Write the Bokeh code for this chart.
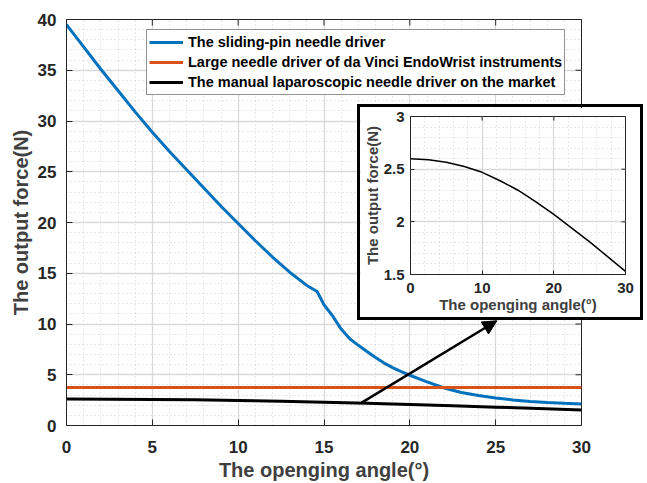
import math
from bokeh.plotting import figure
from bokeh.models import (FixedTicker, Legend, LegendItem, Arrow,
                          NormalHead, NumeralTickFormatter)
from bokeh.embed import file_html
from bokeh.resources import INLINE

# ---------------- data ----------------
angle_blue = [0, 1, 2, 3, 4, 5, 6, 7, 8, 9, 10, 11, 12, 13, 14, 14.6, 15, 15.5,
              16, 16.5, 17, 17.5, 18, 18.5, 19, 19.5, 20, 21, 22, 23, 24, 25,
              26, 27, 28, 29, 30]
force_blue = [39.5, 37.3, 35.1, 33.0, 30.9, 28.9, 27.0, 25.2, 23.4, 21.6, 19.9,
              18.2, 16.6, 15.1, 13.8, 13.2, 11.9, 10.8, 9.5, 8.55, 7.9, 7.3,
              6.7, 6.15, 5.7, 5.3, 4.95, 4.3, 3.7, 3.25, 2.95, 2.72, 2.52, 2.37,
              2.26, 2.18, 2.13]
angle_orange = [0, 30]
force_orange = [3.75, 3.75]
angle_black = [0, 2.5, 5, 7.5, 10, 12.5, 15, 17.5, 20, 22.5, 25, 27.5, 30]
force_black = [2.60, 2.59, 2.565, 2.525, 2.47, 2.39, 2.30, 2.19, 2.07, 1.94,
               1.81, 1.67, 1.53]

names = ["The sliding-pin needle driver",
         "Large needle driver of da Vinci EndoWrist instruments",
         "The manual laparoscopic needle driver on the market"]
colors = ["#0072BD", "#D95319", "#000000"]

x_ticks = [0, 5, 10, 15, 20, 25, 30]
y_ticks = [0, 5, 10, 15, 20, 25, 30, 35, 40]
x_minor = list(range(0, 31))
y_minor = list(range(0, 41))

inset_x_ticks = [0, 10, 20, 30]
inset_y_ticks = [1.5, 2, 2.5, 3]
inset_x_minor = list(range(0, 31, 2))
inset_y_minor = [round(1.5 + 0.1 * i, 2) for i in range(16)]

x_label = "The openging angle(\u00b0)"
y_label = "The output force(N)"

arrow_start = (17.2, 2.25)
arrow_end = (25.07, 10.32)

FONT = "Liberation Sans"
AX = "#262626"
LBL = "#404040"


def style_axis(ax, size, standoff, tick_len):
    ax.major_label_text_font = FONT
    ax.major_label_text_font_style = "bold"
    ax.major_label_text_font_size = size
    ax.major_label_text_color = AX
    ax.major_label_standoff = standoff
    ax.major_tick_in = tick_len
    ax.major_tick_out = 0
    ax.major_tick_line_color = AX
    ax.minor_tick_line_color = None
    ax.axis_line_color = AX
    ax.axis_label_text_font = FONT
    ax.axis_label_text_font_style = "bold"
    ax.axis_label_text_color = LBL


def style_grid(fig):
    for g in (fig.xgrid, fig.ygrid):
        g.grid_line_color = "#d9d9d9"
        g.grid_line_width = 1.3
        g.minor_grid_line_color = "#cfcfcf"
        g.minor_grid_line_dash = "1 3"
        g.minor_grid_line_width = 1


def box_ticks(fig, xt, yt, xmax, ymax, size):
    # tick marks on the top and right edges of the box (half clipped by frame)
    fig.scatter(xt, [ymax] * len(xt), marker="dash", angle=math.pi / 2,
                size=size, line_color=AX, line_width=1)
    fig.scatter([xmax] * len(yt), yt, marker="dash", size=size,
                line_color=AX, line_width=1)


# ---------------- main figure ----------------
p = figure(width=647, height=483, x_range=(0, 30), y_range=(0, 40),
           output_backend="svg", toolbar_location=None,
           min_border_left=66, min_border_right=66,
           min_border_top=19, min_border_bottom=57,
           background_fill_color="white", border_fill_color="white")
p.outline_line_color = AX

p.xaxis.ticker = FixedTicker(ticks=x_ticks, minor_ticks=x_minor)
p.yaxis.ticker = FixedTicker(ticks=y_ticks, minor_ticks=y_minor)
style_axis(p.xaxis[0], "17px", 11, 6)
style_axis(p.yaxis[0], "17px", 6, 6)
p.yaxis.axis_label = y_label
p.yaxis.axis_label_text_font_size = "20px"
p.yaxis.axis_label_standoff = 3
p.xaxis.axis_label = x_label
p.xaxis.axis_label_text_font_size = "20px"
p.xaxis.axis_label_standoff = 3
style_grid(p)
box_ticks(p, x_ticks, y_ticks, x_ticks[-1], y_ticks[-1], 12)

r_blue = p.line(angle_blue, force_blue, line_color=colors[0], line_width=3)
r_orange = p.line(angle_orange, force_orange, line_color=colors[1], line_width=3)
r_black = p.line(angle_black, force_black, line_color=colors[2], line_width=3)

p.add_layout(Arrow(end=NormalHead(size=14, fill_color="black",
                                  line_color="black", line_width=1),
                   x_start=arrow_start[0], y_start=arrow_start[1],
                   x_end=arrow_end[0], y_end=arrow_end[1],
                   line_color="black", line_width=2.5))

legend = Legend(items=[LegendItem(label=names[0], renderers=[r_blue]),
                       LegendItem(label=names[1], renderers=[r_orange]),
                       LegendItem(label=names[2], renderers=[r_black])],
                location=(80, 330), padding=2, spacing=0,
                label_height=20, glyph_height=20, glyph_width=34,
                label_standoff=5, label_text_font=FONT,
                label_text_font_style="bold", label_text_font_size="14.5px",
                label_text_color="black", border_line_color=AX,
                border_line_width=1, background_fill_color="white",
                background_fill_alpha=1)
p.add_layout(legend, "center")

# ---------------- inset figure (separate root, pulled up over the main one) ----
inset = figure(width=280, height=210, x_range=(0, 30), y_range=(1.5, 3),
               output_backend="svg", toolbar_location=None,
               min_border_left=46, min_border_right=15,
               min_border_top=9, min_border_bottom=43,
               background_fill_color="white", border_fill_color="white",
               margin=(-376, 0, 166, 360),
               styles={"outline": "3px solid black", "outline-offset": "0px"})
inset.outline_line_color = AX
inset.xaxis.ticker = FixedTicker(ticks=inset_x_ticks, minor_ticks=inset_x_minor)
inset.yaxis.ticker = FixedTicker(ticks=inset_y_ticks, minor_ticks=inset_y_minor)
inset.yaxis.formatter = NumeralTickFormatter(format="0.[0]")
style_axis(inset.xaxis[0], "15px", 4, 4)
style_axis(inset.yaxis[0], "15px", 2, 4)
inset.xaxis.axis_label = x_label
inset.yaxis.axis_label = y_label
inset.xaxis.axis_label_text_font_size = "15px"
inset.yaxis.axis_label_text_font_size = "15px"
inset.xaxis.axis_label_standoff = 0
inset.yaxis.axis_label_standoff = 0
style_grid(inset)
box_ticks(inset, inset_x_ticks, inset_y_ticks, inset_x_ticks[-1],
          inset_y_ticks[-1], 8)
inset.line(angle_black, force_black, line_color="black", line_width=1.5)

open("out.html", "w").write(file_html([p, inset], INLINE))
